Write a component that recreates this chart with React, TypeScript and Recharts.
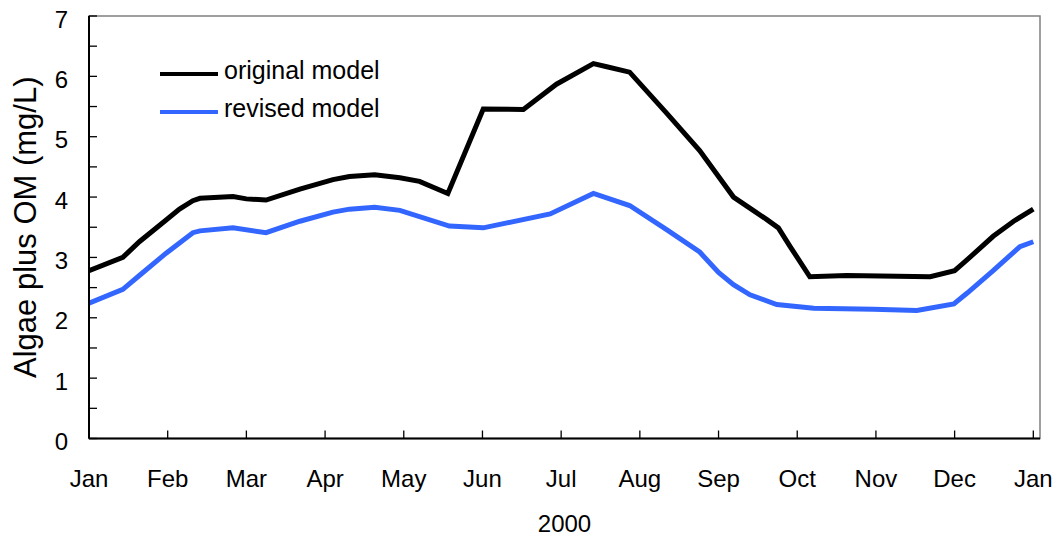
import React from 'react';
import { LineChart, Line, XAxis, YAxis, ReferenceArea, Legend } from 'recharts';

const FONT = '"Liberation Sans", Arial, Helvetica, sans-serif';

const MONTH_LABELS = ['Jan', 'Feb', 'Mar', 'Apr', 'May', 'Jun', 'Jul', 'Aug', 'Sep', 'Oct', 'Nov', 'Dec', 'Jan'];
const MONTH_TICKS = [0, 1, 2, 3, 4, 5, 6, 7, 8, 9, 10, 11, 12];
const Y_TICKS = [0, 0.5, 1, 1.5, 2, 2.5, 3, 3.5, 4, 4.5, 5, 5.5, 6, 6.5, 7];
const X_TITLE = '2000';
const Y_TITLE = 'Algae plus OM (mg/L)';

// time in months since Jan 1, 2000
const ORIGINAL_T = [0, 0.43, 0.64, 0.98, 1.15, 1.32, 1.41, 1.83, 2.0, 2.25, 2.68, 3.1, 3.31, 3.63, 3.95, 4.2, 4.56, 5.01, 5.52, 5.94, 6.41, 6.58, 6.87, 7.34, 7.76, 8.19, 8.44, 8.61, 8.76, 8.91, 9.16, 9.63, 10.69, 11.0, 11.15, 11.49, 11.75, 12.0];
const ORIGINAL_V = [2.78, 3.0, 3.26, 3.62, 3.8, 3.94, 3.98, 4.01, 3.97, 3.95, 4.13, 4.29, 4.34, 4.37, 4.32, 4.26, 4.06, 5.46, 5.45, 5.87, 6.21, 6.16, 6.07, 5.39, 4.77, 4.0, 3.78, 3.63, 3.49, 3.18, 2.68, 2.7, 2.68, 2.78, 2.95, 3.35, 3.6, 3.8];

const REVISED_T = [0, 0.43, 0.64, 0.98, 1.32, 1.41, 1.83, 2.25, 2.68, 3.1, 3.31, 3.63, 3.95, 4.58, 5.01, 5.86, 6.41, 6.87, 7.34, 7.76, 8.0, 8.19, 8.4, 8.74, 9.21, 9.97, 10.52, 10.99, 11.16, 11.49, 11.83, 12.0];
const REVISED_V = [2.24, 2.47, 2.7, 3.07, 3.41, 3.44, 3.49, 3.41, 3.6, 3.75, 3.8, 3.83, 3.78, 3.52, 3.49, 3.72, 4.06, 3.86, 3.46, 3.09, 2.75, 2.55, 2.38, 2.22, 2.16, 2.14, 2.12, 2.23, 2.41, 2.78, 3.18, 3.26];

const originalData = ORIGINAL_T.map((m, i) => ({ m, v: ORIGINAL_V[i] }));
const revisedData = REVISED_T.map((m, i) => ({ m, v: REVISED_V[i] }));

const BLUE = '#3366ff';

const XTick = (props: any) => {
  const { x, y, payload } = props;
  return (
    <g>
      <line x1={x} x2={x} y1={y} y2={y - 8} stroke="#000" strokeWidth={1.3} />
      <text x={x} y={y + 48} textAnchor="middle" fontSize={24} fontFamily={FONT} fill="#000">
        {MONTH_LABELS[payload.value]}
      </text>
    </g>
  );
};

const YTick = (props: any) => {
  const { x, y, payload } = props;
  const isMajor = Number.isInteger(payload.value);
  return (
    <g>
      <line x1={x} x2={x + 8} y1={y} y2={y} stroke="#000" strokeWidth={1.3} />
      {isMajor && (
        <text x={x - 21} y={y + 11.5} textAnchor="end" fontSize={24} fontFamily={FONT} fill="#000">
          {payload.value}
        </text>
      )}
    </g>
  );
};

const YTitle = (props: any) => {
  const vb = props.viewBox || { x: 0, y: 16, width: 89, height: 422.5 };
  const cx = vb.x + 36;
  const cy = vb.y + vb.height / 2;
  return (
    <text x={cx} y={cy} transform={`rotate(-90, ${cx}, ${cy})`} textAnchor="middle" fontSize={31} fontFamily={FONT} fill="#000">
      {Y_TITLE}
    </text>
  );
};

const XTitle = (props: any) => {
  const vb = props.viewBox || { x: 89, y: 438.5, width: 951, height: 60 };
  return (
    <text x={vb.x + vb.width / 2} y={vb.y + 93.5} textAnchor="middle" fontSize={24} fontFamily={FONT} fill="#000">
      {X_TITLE}
    </text>
  );
};

const LEGEND_ITEMS = [
  { label: 'original model', color: '#000' },
  { label: 'revised model', color: BLUE },
];

const LegendContent = () => (
  <div style={{ position: 'relative', width: 240, height: 80, fontFamily: FONT }}>
    {LEGEND_ITEMS.map((item, i) => (
      <React.Fragment key={item.label}>
        <div
          style={{
            position: 'absolute',
            left: 0,
            top: 19.5 + i * 38.3,
            width: 58,
            height: 4.5,
            background: item.color,
          }}
        />
        <span
          style={{
            position: 'absolute',
            left: 64,
            top: 6 + i * 38.3,
            fontSize: 25,
            lineHeight: '25px',
            whiteSpace: 'nowrap',
            color: '#000',
          }}
        >
          {item.label}
        </span>
      </React.Fragment>
    ))}
  </div>
);

export default function App() {
  return (
    <div style={{ position: 'absolute', left: 0, top: 0, width: 1060, height: 537, background: '#fff' }}>
      <LineChart width={1060} height={537} margin={{ top: 16, right: 20, left: 0, bottom: 38.5 }}>
        <ReferenceArea x1={0} x2={12.085} y1={0} y2={7} fill="none" stroke="#808080" strokeWidth={1.5} ifOverflow="visible" />
        <XAxis
          type="number"
          dataKey="m"
          domain={[0, 12.085]}
          ticks={MONTH_TICKS}
          interval={0}
          height={60}
          tickSize={0}
          tickMargin={0}
          tickLine={false}
          tick={<XTick />}
          axisLine={{ stroke: '#000', strokeWidth: 2 }}
          allowDataOverflow
          label={<XTitle />}
        />
        <YAxis
          type="number"
          domain={[0, 7]}
          ticks={Y_TICKS}
          interval={0}
          width={89}
          tickSize={0}
          tickMargin={0}
          tickLine={false}
          tick={<YTick />}
          axisLine={{ stroke: '#000', strokeWidth: 2 }}
          allowDataOverflow
          label={<YTitle />}
        />
        <Legend
          layout="horizontal"
          verticalAlign="middle"
          align="center"
          content={<LegendContent />}
          wrapperStyle={{ position: 'absolute', left: 160, top: 52, width: 240, height: 80 }}
        />
        <Line
          data={originalData}
          dataKey="v"
          name="original model"
          type="linear"
          stroke="#000"
          strokeWidth={5}
          dot={false}
          activeDot={false}
          isAnimationActive={false}
        />
        <Line
          data={revisedData}
          dataKey="v"
          name="revised model"
          type="linear"
          stroke={BLUE}
          strokeWidth={5}
          dot={false}
          activeDot={false}
          isAnimationActive={false}
        />
      </LineChart>
    </div>
  );
}
